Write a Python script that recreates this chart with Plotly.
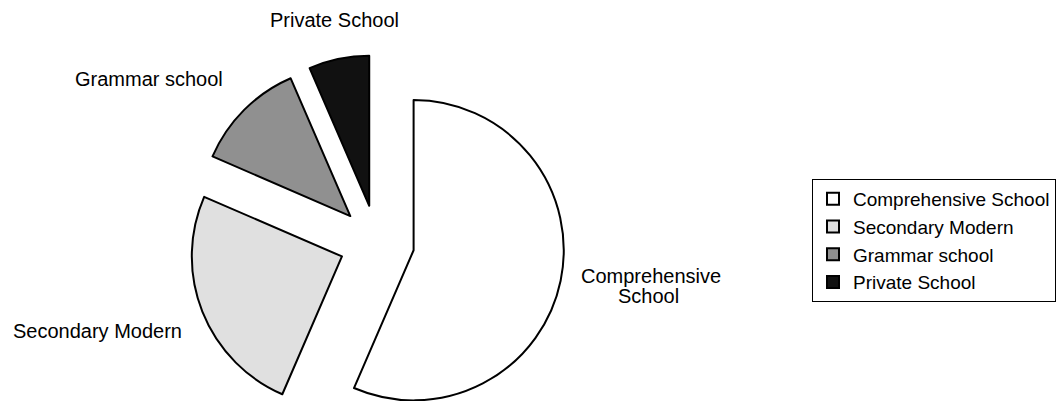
import plotly.graph_objects as go

# School type shares (percent)
categories = ["Comprehensive School", "Secondary Modern", "Grammar school", "Private School"]
shares = [56.5, 25.0, 12.0, 6.5]
fills = ["#ffffff", "#e0e0e0", "#909090", "#111111"]

# Label placement (pixel centres) and line breaks for the outside labels
label_lines = [["Comprehensive", "School"], ["Secondary Modern"], ["Grammar school"], ["Private School"]]
label_pos = [[(655, 276), (652, 296)], [(98, 331)], [(150, 79)], [(336, 20)]]

W, H = 1056, 432
cx, cy, r, pull = 379.0, 242.0, 151.0, 0.25
half = r * (1 + pull)

fig = go.Figure(
    go.Pie(
        labels=categories,
        values=shares,
        sort=False,
        direction="clockwise",
        rotation=0,
        pull=[pull] * len(shares),
        marker=dict(colors=fills, line=dict(color="#000000", width=2)),
        textinfo="none",
        hoverinfo="label+percent",
        domain=dict(x=[(cx - half) / W, (cx + half) / W], y=[0, 1 - (cy - half) / H]),
    )
)

font = dict(family="Liberation Sans, Arial, sans-serif", size=20, color="#000000")
annotations = []
for lines, positions in zip(label_lines, label_pos):
    for text, (x, y) in zip(lines, positions):
        annotations.append(
            dict(
                text=text, x=x / W, y=1 - y / H, xref="paper", yref="paper",
                xanchor="center", yanchor="middle", showarrow=False, font=font,
            )
        )

fig.update_layout(
    width=W,
    height=H,
    margin=dict(l=0, r=0, t=0, b=0),
    paper_bgcolor="#ffffff",
    plot_bgcolor="#ffffff",
    annotations=annotations,
    showlegend=True,
    legend=dict(
        x=817 / W, y=1 - 179 / H, xanchor="left", yanchor="top",
        bgcolor="#ffffff", bordercolor="#000000", borderwidth=1,
        font=dict(family="Liberation Sans, Arial, sans-serif", size=19, color="#000000"),
    ),
)

fig.write_html("out.html")
